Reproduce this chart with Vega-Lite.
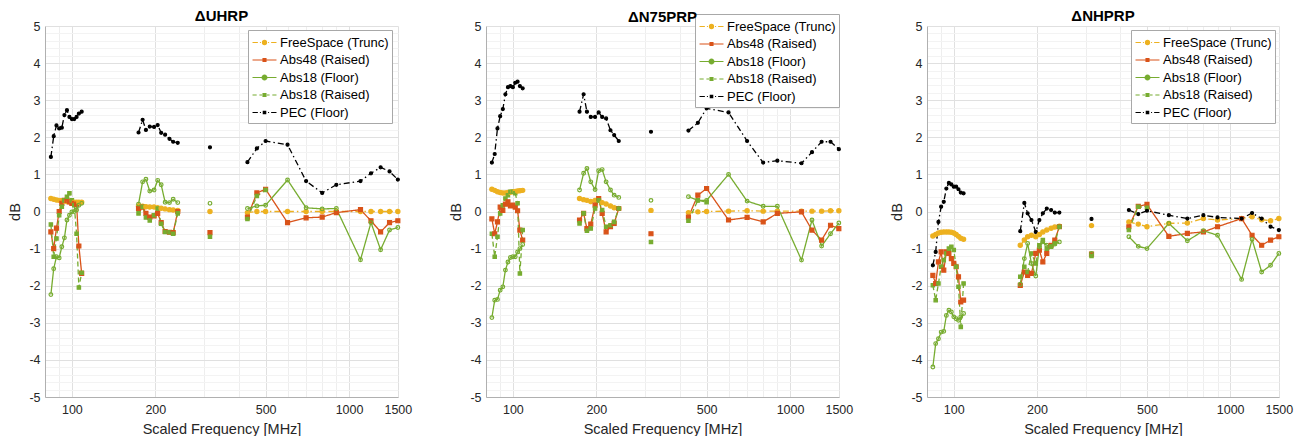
{
"$schema":"https://vega.github.io/schema/vega-lite/v6.json",
"padding":{"left":7,"top":9,"right":5,"bottom":0},
"bounds":"flush",
"spacing":88,
"data":{"values":[
{"p":1,"g":1,"f":84,"a":0.35,"b":-0.55,"c":-2.24,"d":-0.35,"e":1.47},
{"p":1,"g":1,"f":86,"a":0.33,"b":-1.0,"c":-1.54,"d":-1.22,"e":2.03},
{"p":1,"g":1,"f":88,"a":0.31,"b":-0.45,"c":-1.22,"d":-0.73,"e":2.32},
{"p":1,"g":1,"f":90,"a":0.3,"b":0.0,"c":-1.25,"d":-0.1,"e":2.24},
{"p":1,"g":1,"f":92,"a":0.29,"b":0.22,"c":-0.95,"d":0.13,"e":2.26},
{"p":1,"g":1,"f":94,"a":0.28,"b":0.3,"c":-0.71,"d":0.3,"e":2.6},
{"p":1,"g":1,"f":96,"a":0.27,"b":0.3,"c":-0.23,"d":0.4,"e":2.73},
{"p":1,"g":1,"f":98,"a":0.26,"b":0.26,"c":-0.1,"d":0.49,"e":2.55},
{"p":1,"g":1,"f":100,"a":0.26,"b":0.22,"c":-0.01,"d":0.3,"e":2.49},
{"p":1,"g":1,"f":102,"a":0.25,"b":0.22,"c":0.0,"d":0.17,"e":2.49},
{"p":1,"g":1,"f":104,"a":0.25,"b":0.2,"c":0.04,"d":-0.6,"e":2.55},
{"p":1,"g":1,"f":106,"a":0.25,"b":-0.93,"c":0.17,"d":-2.05,"e":2.64},
{"p":1,"g":1,"f":108.5,"a":0.25,"b":-1.67,"c":0.22,"d":-1.65,"e":2.69},
{"p":1,"g":2,"f":174,"a":0.15,"b":0.08,"c":0.2,"d":-0.05,"e":2.13},
{"p":1,"g":2,"f":180,"a":0.14,"b":0.12,"c":0.8,"d":0.13,"e":2.47},
{"p":1,"g":2,"f":185,"a":0.13,"b":-0.05,"c":0.87,"d":-0.16,"e":2.2},
{"p":1,"g":2,"f":191,"a":0.12,"b":-0.15,"c":0.55,"d":-0.24,"e":2.29},
{"p":1,"g":2,"f":198,"a":0.12,"b":-0.12,"c":0.58,"d":-0.1,"e":2.28},
{"p":1,"g":2,"f":204,"a":0.1,"b":-0.05,"c":0.84,"d":0.08,"e":2.33},
{"p":1,"g":2,"f":210,"a":0.09,"b":-0.3,"c":0.72,"d":-0.33,"e":2.12},
{"p":1,"g":2,"f":217,"a":0.07,"b":-0.54,"c":0.25,"d":-0.55,"e":2.07},
{"p":1,"g":2,"f":225,"a":0.05,"b":-0.56,"c":0.24,"d":-0.56,"e":1.96},
{"p":1,"g":2,"f":232,"a":0.04,"b":-0.57,"c":0.33,"d":-0.6,"e":1.88},
{"p":1,"g":2,"f":241,"a":0.03,"b":0.0,"c":0.24,"d":-0.05,"e":1.85},
{"p":1,"g":3,"f":315,"a":0.0,"b":-0.57,"c":0.22,"d":-0.68,"e":1.73},
{"p":1,"g":4,"f":430,"a":-0.03,"b":-0.15,"c":0.08,"d":-0.2,"e":1.33},
{"p":1,"g":4,"f":465,"a":0.0,"b":0.5,"c":0.15,"d":0.42,"e":1.7},
{"p":1,"g":4,"f":500,"a":0.0,"b":0.6,"c":0.17,"d":0.58,"e":1.9},
{"p":1,"g":4,"f":600,"a":0.0,"b":-0.3,"c":0.85,"e":1.8},
{"p":1,"g":4,"f":700,"a":0.0,"b":-0.17,"c":0.1,"e":0.82},
{"p":1,"g":4,"f":800,"a":0.0,"b":-0.15,"c":0.07,"e":0.5},
{"p":1,"g":4,"f":900,"a":0.0,"b":-0.03,"c":0.08,"e":0.72},
{"p":1,"g":4,"f":1100,"a":0.0,"b":0.05,"c":-1.3,"e":0.82},
{"p":1,"g":4,"f":1200,"a":0.0,"b":-0.25,"c":-0.3,"e":1.03},
{"p":1,"g":4,"f":1300,"a":0.0,"b":-0.55,"c":-1.03,"e":1.19},
{"p":1,"g":4,"f":1400,"a":0.0,"b":-0.3,"c":-0.5,"e":1.08},
{"p":1,"g":4,"f":1500,"a":0.0,"b":-0.25,"c":-0.43,"e":0.86},
{"p":2,"g":1,"f":84,"a":0.6,"b":-0.2,"c":-2.86,"d":-0.6,"e":1.32},
{"p":2,"g":1,"f":86,"a":0.57,"b":-0.6,"c":-2.39,"d":-1.22,"e":1.55},
{"p":2,"g":1,"f":88,"a":0.53,"b":-0.28,"c":-2.37,"d":-0.68,"e":2.24},
{"p":2,"g":1,"f":90,"a":0.51,"b":0.12,"c":-2.12,"d":-0.05,"e":2.57},
{"p":2,"g":1,"f":92,"a":0.5,"b":0.03,"c":-2.03,"d":0.17,"e":2.76},
{"p":2,"g":1,"f":94,"a":0.5,"b":0.2,"c":-1.58,"d":0.35,"e":3.16},
{"p":2,"g":1,"f":96,"a":0.51,"b":0.26,"c":-1.36,"d":0.44,"e":3.35},
{"p":2,"g":1,"f":98,"a":0.52,"b":0.15,"c":-1.24,"d":0.53,"e":3.38},
{"p":2,"g":1,"f":100,"a":0.53,"b":0.17,"c":-1.22,"d":0.53,"e":3.35},
{"p":2,"g":1,"f":102,"a":0.54,"b":0.12,"c":-1.22,"d":0.49,"e":3.47},
{"p":2,"g":1,"f":104,"a":0.55,"b":0.02,"c":-1.09,"d":0.22,"e":3.5},
{"p":2,"g":1,"f":106,"a":0.56,"b":-0.5,"c":-1.0,"d":-1.67,"e":3.38},
{"p":2,"g":1,"f":108.5,"a":0.57,"b":-0.77,"c":-0.89,"d":-0.5,"e":3.32},
{"p":2,"g":2,"f":174,"a":0.35,"b":-0.23,"c":0.58,"d":-0.32,"e":2.69},
{"p":2,"g":2,"f":180,"a":0.32,"b":-0.05,"c":1.03,"d":-0.05,"e":3.16},
{"p":2,"g":2,"f":185,"a":0.3,"b":-0.46,"c":1.16,"d":-0.52,"e":2.69},
{"p":2,"g":2,"f":191,"a":0.27,"b":-0.34,"c":0.8,"d":-0.46,"e":2.55},
{"p":2,"g":2,"f":198,"a":0.3,"b":0.17,"c":0.59,"d":0.08,"e":2.55},
{"p":2,"g":2,"f":204,"a":0.32,"b":0.35,"c":1.1,"d":0.3,"e":2.67},
{"p":2,"g":2,"f":210,"a":0.24,"b":-0.05,"c":1.13,"d":0.04,"e":2.55},
{"p":2,"g":2,"f":217,"a":0.2,"b":-0.55,"c":0.8,"d":-0.41,"e":2.51},
{"p":2,"g":2,"f":225,"a":0.15,"b":-0.41,"c":0.58,"d":-0.37,"e":2.19},
{"p":2,"g":2,"f":232,"a":0.1,"b":-0.32,"c":0.44,"d":-0.28,"e":2.06},
{"p":2,"g":2,"f":241,"a":0.08,"b":0.08,"c":0.38,"d":0.08,"e":1.9},
{"p":2,"g":3,"f":315,"a":0.03,"b":-0.6,"c":0.3,"d":-0.82,"e":2.15},
{"p":2,"g":4,"f":430,"a":-0.03,"b":-0.15,"c":0.4,"d":-0.25,"e":2.18},
{"p":2,"g":4,"f":465,"a":-0.01,"b":0.44,"c":0.3,"d":0.3,"e":2.39},
{"p":2,"g":4,"f":500,"a":0.0,"b":0.62,"c":0.3,"d":0.25,"e":2.78},
{"p":2,"g":4,"f":600,"a":0.01,"b":-0.23,"c":1.0,"e":2.67},
{"p":2,"g":4,"f":700,"a":0.02,"b":-0.16,"c":0.28,"e":1.9},
{"p":2,"g":4,"f":800,"a":0.01,"b":-0.28,"c":0.14,"e":1.32},
{"p":2,"g":4,"f":900,"a":0.01,"b":-0.05,"c":0.14,"e":1.37},
{"p":2,"g":4,"f":1100,"a":0.01,"b":-0.01,"c":-1.31,"e":1.3},
{"p":2,"g":4,"f":1200,"a":0.01,"b":-0.5,"c":-0.23,"e":1.6},
{"p":2,"g":4,"f":1300,"a":0.01,"b":-0.77,"c":-0.93,"e":1.88},
{"p":2,"g":4,"f":1400,"a":0.02,"b":-0.37,"c":-0.6,"e":1.88},
{"p":2,"g":4,"f":1500,"a":0.02,"b":-0.46,"c":-0.31,"e":1.68},
{"p":3,"g":1,"f":84,"a":-0.66,"b":-1.72,"c":-4.19,"d":-1.99,"e":-1.45},
{"p":3,"g":1,"f":86,"a":-0.62,"b":-1.94,"c":-3.56,"d":-2.39,"e":-1.09},
{"p":3,"g":1,"f":88,"a":-0.58,"b":-1.36,"c":-3.43,"d":-1.94,"e":-0.28},
{"p":3,"g":1,"f":90,"a":-0.56,"b":-1.09,"c":-3.25,"d":-1.49,"e":0.13},
{"p":3,"g":1,"f":92,"a":-0.55,"b":-1.58,"c":-3.23,"d":-1.31,"e":0.26},
{"p":3,"g":1,"f":94,"a":-0.55,"b":-1.09,"c":-2.8,"d":-1.13,"e":0.62},
{"p":3,"g":1,"f":96,"a":-0.55,"b":-1.13,"c":-2.66,"d":-1.0,"e":0.77},
{"p":3,"g":1,"f":98,"a":-0.56,"b":-1.27,"c":-2.71,"d":-0.95,"e":0.73},
{"p":3,"g":1,"f":100,"a":-0.58,"b":-1.4,"c":-2.84,"d":-1.04,"e":0.67},
{"p":3,"g":1,"f":102,"a":-0.62,"b":-1.49,"c":-2.89,"d":-1.49,"e":0.67},
{"p":3,"g":1,"f":104,"a":-0.67,"b":-1.76,"c":-2.93,"d":-2.03,"e":0.6},
{"p":3,"g":1,"f":106,"a":-0.72,"b":-2.44,"c":-2.84,"d":-3.11,"e":0.51},
{"p":3,"g":1,"f":108.5,"a":-0.75,"b":-2.39,"c":-2.75,"d":-1.94,"e":0.49},
{"p":3,"g":2,"f":174,"a":-0.91,"b":-1.99,"c":-1.96,"d":-1.76,"e":-0.53},
{"p":3,"g":2,"f":180,"a":-0.77,"b":-1.63,"c":-1.27,"d":-1.49,"e":0.23},
{"p":3,"g":2,"f":185,"a":-0.68,"b":-1.72,"c":-0.86,"d":-1.63,"e":-0.05},
{"p":3,"g":2,"f":191,"a":-0.64,"b":-1.67,"c":-1.4,"d":-1.13,"e":-0.23},
{"p":3,"g":2,"f":198,"a":-0.68,"b":-1.13,"c":-1.74,"d":-1.4,"e":-0.55},
{"p":3,"g":2,"f":204,"a":-0.62,"b":-1.04,"c":-0.95,"d":-0.91,"e":-0.23},
{"p":3,"g":2,"f":210,"a":-0.55,"b":-1.36,"c":-0.82,"d":-0.77,"e":-0.05},
{"p":3,"g":2,"f":217,"a":-0.5,"b":-1.13,"c":-0.91,"d":-1.0,"e":0.08},
{"p":3,"g":2,"f":225,"a":-0.45,"b":-0.91,"c":-0.94,"d":-0.95,"e":0.04},
{"p":3,"g":2,"f":232,"a":-0.42,"b":-0.77,"c":-0.88,"d":-0.86,"e":-0.03},
{"p":3,"g":2,"f":241,"a":-0.4,"b":-0.41,"c":-0.82,"d":-0.41,"e":-0.03},
{"p":3,"g":3,"f":315,"a":-0.38,"b":-1.15,"c":-1.13,"d":-1.2,"e":-0.2},
{"p":3,"g":4,"f":430,"a":-0.28,"b":-0.41,"c":-0.68,"d":-0.5,"e":0.04},
{"p":3,"g":4,"f":465,"a":-0.34,"b":0.14,"c":-0.94,"d":0.13,"e":-0.07},
{"p":3,"g":4,"f":500,"a":-0.41,"b":0.19,"c":-1.0,"d":0.1,"e":0.02},
{"p":3,"g":4,"f":600,"a":-0.32,"b":-0.67,"c":-0.32,"e":-0.1},
{"p":3,"g":4,"f":700,"a":-0.31,"b":-0.59,"c":-0.79,"e":-0.19},
{"p":3,"g":4,"f":800,"a":-0.19,"b":-0.55,"c":-0.52,"e":-0.1},
{"p":3,"g":4,"f":900,"a":-0.23,"b":-0.41,"c":-0.64,"e":-0.16},
{"p":3,"g":4,"f":1100,"a":-0.19,"b":-0.19,"c":-1.83,"e":-0.19},
{"p":3,"g":4,"f":1200,"a":-0.14,"b":-0.64,"c":-0.75,"e":-0.04},
{"p":3,"g":4,"f":1300,"a":-0.22,"b":-0.91,"c":-1.63,"e":-0.19},
{"p":3,"g":4,"f":1400,"a":-0.25,"b":-0.77,"c":-1.45,"e":-0.41},
{"p":3,"g":4,"f":1500,"a":-0.19,"b":-0.68,"c":-1.13,"e":-0.5}
]},
"resolve":{"scale":{"stroke":"independent"},"legend":{"stroke":"independent"}},
"hconcat":[
{"width":353,"height":371,"title":{"text":"ΔUHRP","frame":"group","offset":-4},
 "transform":[{"filter":"datum.p==1"},{"fold":["a","b","c","d","e"],"as":["s","v"]},{"filter":"isValid(datum.v)"}],
 "encoding":{
  "x":{"field":"f","type":"quantitative","scale":{"type":"log","domain":[80,1502],"nice":false},"axis":{"title":"Scaled Frequency [MHz]","labelOverlap":false,"labelFlush":false,"labelBound":false,"values":[90,100,200,300,400,500,600,700,800,900,1000,1500]}},
  "y":{"field":"v","type":"quantitative","scale":{"domain":[-5,5],"nice":false,"zero":false},"axis":{"title":"dB","labelOverlap":false,"labelFlush":false,"values":[-5,-4.8,-4.6,-4.4,-4.2,-4,-3.8,-3.6,-3.4,-3.2,-3,-2.8,-2.6,-2.4,-2.2,-2,-1.8,-1.6,-1.4,-1.2,-1,-0.8,-0.6,-0.4,-0.2,0,0.2,0.4,0.6,0.8,1,1.2,1.4,1.6,1.8,2,2.2,2.4,2.6,2.8,3,3.2,3.4,3.6,3.8,4,4.2,4.4,4.6,4.8,5]}},
  "stroke":{"field":"s","type":"nominal","scale":{"domain":["a","b","c","d","e"],"range":["#EDB120","#D95319","#77AC30","#77AC30","#000000"]},
   "legend":{"orient":"none","legendX":203,"legendY":4,
    "labelExpr":"datum.value == 'a' ? 'FreeSpace (Trunc)' : datum.value == 'b' ? 'Abs48 (Raised)' : datum.value == 'c' ? 'Abs18 (Floor)' : datum.value == 'd' ? 'Abs18 (Raised)' : 'PEC (Floor)'",
    "encode":{"symbols":{"update":{
     "shape":{"signal":"datum.value == 'a' ? 'M-1.41,0H-0.78M-0.54,0H-0.42M0.42,0H0.54M0.78,0H1.41M-0.24,0A0.24,0.24,0,1,0,0.24,0A0.24,0.24,0,1,0,-0.24,0Z' : datum.value == 'b' ? 'M-1.41,0H1.41M-0.17,-0.17H0.17V0.17H-0.17Z' : datum.value == 'c' ? 'M-1.41,0H1.41M-0.28,0A0.28,0.28,0,1,0,0.28,0A0.28,0.28,0,1,0,-0.28,0Z' : datum.value == 'd' ? 'M-1.41,0H-0.92M-0.6,0H-0.28M0.28,0H0.6M0.92,0H1.41M-0.17,-0.17H0.17V0.17H-0.17Z' : 'M-1.41,0H-0.78M-0.54,0H-0.42M0.42,0H0.54M0.78,0H1.41M-0.14,-0.14H0.14V0.14H-0.14Z'"},
     "fill":{"signal":"datum.value == 'a' ? '#EDB120' : datum.value == 'b' ? '#D95319' : datum.value == 'e' ? '#000000' : '#77AC30'"},
     "stroke":{"signal":"datum.value == 'a' ? '#EDB120' : datum.value == 'b' ? '#D95319' : datum.value == 'e' ? '#000000' : '#77AC30'"},
     "opacity":{"value":1}}}}}}
 },
 "layer":[
  {"mark":{"type":"line","strokeWidth":1.3},"encoding":{"detail":{"field":"g"},"strokeDash":{"field":"s","type":"nominal","scale":{"domain":["a","b","c","d","e"],"range":[[6,3,1.5,3],[1,0],[1,0],[5,3],[6,3,1.5,3]]},"legend":null}}},
  {"mark":{"type":"point","strokeWidth":1.2,"opacity":1},"encoding":{
   "fill":{"field":"s","type":"nominal","scale":{"domain":["a","b","c","d","e"],"range":["#EDB120","#D95319","transparent","#77AC30","#000000"]},"legend":null},
   "shape":{"field":"s","type":"nominal","scale":{"domain":["a","b","c","d","e"],"range":["circle","square","circle","square","circle"]},"legend":null},
   "size":{"field":"s","type":"nominal","scale":{"domain":["a","b","c","d","e"],"range":[18,9,30,9,8]},"legend":null}}}
 ]},
{"width":353,"height":371,"title":{"text":"ΔN75PRP","frame":"group","offset":-11},
 "transform":[{"filter":"datum.p==2"},{"fold":["a","b","c","d","e"],"as":["s","v"]},{"filter":"isValid(datum.v)"}],
 "encoding":{
  "x":{"field":"f","type":"quantitative","scale":{"type":"log","domain":[80,1502],"nice":false},"axis":{"title":"Scaled Frequency [MHz]","labelOverlap":false,"labelFlush":false,"labelBound":false,"values":[90,100,200,300,400,500,600,700,800,900,1000,1500]}},
  "y":{"field":"v","type":"quantitative","scale":{"domain":[-5,5],"nice":false,"zero":false},"axis":{"title":"dB","labelOverlap":false,"labelFlush":false,"values":[-5,-4.8,-4.6,-4.4,-4.2,-4,-3.8,-3.6,-3.4,-3.2,-3,-2.8,-2.6,-2.4,-2.2,-2,-1.8,-1.6,-1.4,-1.2,-1,-0.8,-0.6,-0.4,-0.2,0,0.2,0.4,0.6,0.8,1,1.2,1.4,1.6,1.8,2,2.2,2.4,2.6,2.8,3,3.2,3.4,3.6,3.8,4,4.2,4.4,4.6,4.8,5]}},
  "stroke":{"field":"s","type":"nominal","scale":{"domain":["a","b","c","d","e"],"range":["#EDB120","#D95319","#77AC30","#77AC30","#000000"]},
   "legend":{"orient":"none","legendX":209,"legendY":-12,
    "labelExpr":"datum.value == 'a' ? 'FreeSpace (Trunc)' : datum.value == 'b' ? 'Abs48 (Raised)' : datum.value == 'c' ? 'Abs18 (Floor)' : datum.value == 'd' ? 'Abs18 (Raised)' : 'PEC (Floor)'",
    "encode":{"symbols":{"update":{
     "shape":{"signal":"datum.value == 'a' ? 'M-1.41,0H-0.78M-0.54,0H-0.42M0.42,0H0.54M0.78,0H1.41M-0.24,0A0.24,0.24,0,1,0,0.24,0A0.24,0.24,0,1,0,-0.24,0Z' : datum.value == 'b' ? 'M-1.41,0H1.41M-0.17,-0.17H0.17V0.17H-0.17Z' : datum.value == 'c' ? 'M-1.41,0H1.41M-0.28,0A0.28,0.28,0,1,0,0.28,0A0.28,0.28,0,1,0,-0.28,0Z' : datum.value == 'd' ? 'M-1.41,0H-0.92M-0.6,0H-0.28M0.28,0H0.6M0.92,0H1.41M-0.17,-0.17H0.17V0.17H-0.17Z' : 'M-1.41,0H-0.78M-0.54,0H-0.42M0.42,0H0.54M0.78,0H1.41M-0.14,-0.14H0.14V0.14H-0.14Z'"},
     "fill":{"signal":"datum.value == 'a' ? '#EDB120' : datum.value == 'b' ? '#D95319' : datum.value == 'e' ? '#000000' : '#77AC30'"},
     "stroke":{"signal":"datum.value == 'a' ? '#EDB120' : datum.value == 'b' ? '#D95319' : datum.value == 'e' ? '#000000' : '#77AC30'"},
     "opacity":{"value":1}}}}}}
 },
 "layer":[
  {"mark":{"type":"line","strokeWidth":1.3},"encoding":{"detail":{"field":"g"},"strokeDash":{"field":"s","type":"nominal","scale":{"domain":["a","b","c","d","e"],"range":[[6,3,1.5,3],[1,0],[1,0],[5,3],[6,3,1.5,3]]},"legend":null}}},
  {"mark":{"type":"point","strokeWidth":1.2,"opacity":1},"encoding":{
   "fill":{"field":"s","type":"nominal","scale":{"domain":["a","b","c","d","e"],"range":["#EDB120","#D95319","transparent","#77AC30","#000000"]},"legend":null},
   "shape":{"field":"s","type":"nominal","scale":{"domain":["a","b","c","d","e"],"range":["circle","square","circle","square","circle"]},"legend":null},
   "size":{"field":"s","type":"nominal","scale":{"domain":["a","b","c","d","e"],"range":[18,9,30,9,8]},"legend":null}}}
 ]},
{"width":352,"height":371,"title":{"text":"ΔNHPRP","frame":"group","offset":-4},
 "transform":[{"filter":"datum.p==3"},{"fold":["a","b","c","d","e"],"as":["s","v"]},{"filter":"isValid(datum.v)"}],
 "encoding":{
  "x":{"field":"f","type":"quantitative","scale":{"type":"log","domain":[80,1502],"nice":false},"axis":{"title":"Scaled Frequency [MHz]","labelOverlap":false,"labelFlush":false,"labelBound":false,"values":[90,100,200,300,400,500,600,700,800,900,1000,1500]}},
  "y":{"field":"v","type":"quantitative","scale":{"domain":[-5,5],"nice":false,"zero":false},"axis":{"title":"dB","labelOverlap":false,"labelFlush":false,"values":[-5,-4.8,-4.6,-4.4,-4.2,-4,-3.8,-3.6,-3.4,-3.2,-3,-2.8,-2.6,-2.4,-2.2,-2,-1.8,-1.6,-1.4,-1.2,-1,-0.8,-0.6,-0.4,-0.2,0,0.2,0.4,0.6,0.8,1,1.2,1.4,1.6,1.8,2,2.2,2.4,2.6,2.8,3,3.2,3.4,3.6,3.8,4,4.2,4.4,4.6,4.8,5]}},
  "stroke":{"field":"s","type":"nominal","scale":{"domain":["a","b","c","d","e"],"range":["#EDB120","#D95319","#77AC30","#77AC30","#000000"]},
   "legend":{"orient":"none","legendX":204,"legendY":4,
    "labelExpr":"datum.value == 'a' ? 'FreeSpace (Trunc)' : datum.value == 'b' ? 'Abs48 (Raised)' : datum.value == 'c' ? 'Abs18 (Floor)' : datum.value == 'd' ? 'Abs18 (Raised)' : 'PEC (Floor)'",
    "encode":{"symbols":{"update":{
     "shape":{"signal":"datum.value == 'a' ? 'M-1.41,0H-0.78M-0.54,0H-0.42M0.42,0H0.54M0.78,0H1.41M-0.24,0A0.24,0.24,0,1,0,0.24,0A0.24,0.24,0,1,0,-0.24,0Z' : datum.value == 'b' ? 'M-1.41,0H1.41M-0.17,-0.17H0.17V0.17H-0.17Z' : datum.value == 'c' ? 'M-1.41,0H1.41M-0.28,0A0.28,0.28,0,1,0,0.28,0A0.28,0.28,0,1,0,-0.28,0Z' : datum.value == 'd' ? 'M-1.41,0H-0.92M-0.6,0H-0.28M0.28,0H0.6M0.92,0H1.41M-0.17,-0.17H0.17V0.17H-0.17Z' : 'M-1.41,0H-0.78M-0.54,0H-0.42M0.42,0H0.54M0.78,0H1.41M-0.14,-0.14H0.14V0.14H-0.14Z'"},
     "fill":{"signal":"datum.value == 'a' ? '#EDB120' : datum.value == 'b' ? '#D95319' : datum.value == 'e' ? '#000000' : '#77AC30'"},
     "stroke":{"signal":"datum.value == 'a' ? '#EDB120' : datum.value == 'b' ? '#D95319' : datum.value == 'e' ? '#000000' : '#77AC30'"},
     "opacity":{"value":1}}}}}}
 },
 "layer":[
  {"mark":{"type":"line","strokeWidth":1.3},"encoding":{"detail":{"field":"g"},"strokeDash":{"field":"s","type":"nominal","scale":{"domain":["a","b","c","d","e"],"range":[[6,3,1.5,3],[1,0],[1,0],[5,3],[6,3,1.5,3]]},"legend":null}}},
  {"mark":{"type":"point","strokeWidth":1.2,"opacity":1},"encoding":{
   "fill":{"field":"s","type":"nominal","scale":{"domain":["a","b","c","d","e"],"range":["#EDB120","#D95319","transparent","#77AC30","#000000"]},"legend":null},
   "shape":{"field":"s","type":"nominal","scale":{"domain":["a","b","c","d","e"],"range":["circle","square","circle","square","circle"]},"legend":null},
   "size":{"field":"s","type":"nominal","scale":{"domain":["a","b","c","d","e"],"range":[18,9,30,9,8]},"legend":null}}}
 ]}
],
"config":{
 "font":"Liberation Sans",
 "view":{"stroke":null},
 "title":{"fontSize":15,"fontWeight":"bold","color":"#000000","font":"Liberation Sans"},
 "axisX":{
  "labelExpr":"indexof([100,200,500,1000,1500], datum.value) >= 0 ? '' + datum.value : ''",
  "ticks":false,"labelPadding":6,"labelFontSize":12.5,"labelColor":"#262626",
  "titleFontSize":14.5,"titleFontWeight":"normal","titleColor":"#262626","titlePadding":7,
  "domainColor":"#b0b0b0",
  "gridColor":{"condition":{"test":"indexof([100,200,500,1000,1500], datum.value) >= 0","value":"#e0e0e0"},"value":"#eeeeee"}},
 "axisY":{
  "labelExpr":"abs(datum.value - round(datum.value)) < 0.001 ? '' + round(datum.value) : ''",
  "ticks":false,"labelPadding":5,"labelFontSize":12.5,"labelColor":"#262626",
  "titleFontSize":14.5,"titleFontWeight":"normal","titleColor":"#262626","titlePadding":6,
  "domainColor":"#b0b0b0",
  "gridColor":{"condition":{"test":"abs(datum.value - round(datum.value)) < 0.001","value":"#e0e0e0"},"value":"#f3f3f3"}},
 "legend":{"title":null,"labelFont":"Liberation Sans","labelFontSize":13,"labelColor":"#000000",
  "strokeColor":"#a8a8a8","fillColor":"#ffffff","padding":3,"symbolSize":289,"symbolOffset":4,"rowPadding":0.5,"labelOffset":6,"symbolStrokeWidth":1.2}
}
}
